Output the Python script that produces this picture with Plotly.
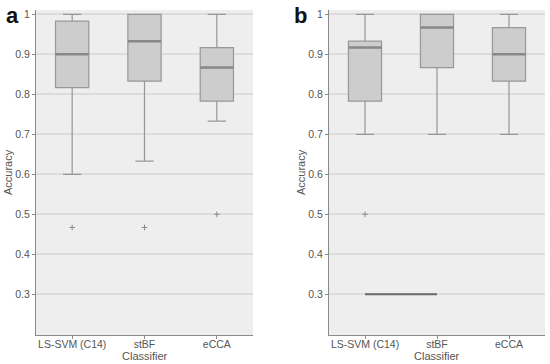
import plotly.graph_objects as go

categories = ["LS-SVM (C14)", "stBF", "eCCA"]

# Panel a
a_lower = [0.600, 0.633, 0.733]
a_q1 = [0.817, 0.833, 0.783]
a_median = [0.900, 0.933, 0.867]
a_q3 = [0.983, 1.000, 0.917]
a_upper = [1.000, 1.000, 1.000]
a_outlier_cat = [0, 1, 2]
a_outlier_val = [0.467, 0.467, 0.500]

# Panel b
b_lower = [0.700, 0.700, 0.700]
b_q1 = [0.783, 0.867, 0.833]
b_median = [0.917, 0.967, 0.900]
b_q3 = [0.933, 1.000, 0.967]
b_upper = [1.000, 1.000, 1.000]
b_outlier_cat = [0]
b_outlier_val = [0.500]
b_sig_cats = [0, 1]
b_sig_val = 0.3

y_ticks = [0.3, 0.4, 0.5, 0.6, 0.7, 0.8, 0.9, 1.0]
y_ticktext = ["0.3", "0.4", "0.5", "0.6", "0.7", "0.8", "0.9", "1"]

BOX_W = 0.46
FILL = "#cdcdcd"
EDGE = "#979797"
MED = "#888888"
BG = "#eeeeee"
GRID = "#dcdcdc"
AX = "#8a8a8a"
TXT = "#555555"
FONT = "Liberation Sans"

fig = go.Figure()
shapes = []

def add_panel(xa, ya, lower, q1, med, q3, upper, ocat, oval):
    xs = list(range(len(categories)))
    fig.add_trace(go.Box(
        x=xs, q1=q1, median=med, q3=q3, lowerfence=lower, upperfence=upper,
        xaxis=xa, yaxis=ya, width=BOX_W, whiskerwidth=0.55,
        fillcolor=FILL, line=dict(color=EDGE, width=1.2),
        boxpoints=False, showlegend=False, hoverinfo="skip",
    ))
    fig.add_trace(go.Scatter(
        x=ocat, y=oval, mode="markers", xaxis=xa, yaxis=ya,
        marker=dict(symbol="cross-thin", size=4, line=dict(color="#8a8a8a", width=1)),
        showlegend=False, hoverinfo="skip",
    ))
    for i, m in enumerate(med):
        shapes.append(dict(type="line", xref=xa, yref=ya,
                           x0=i - BOX_W / 2, x1=i + BOX_W / 2, y0=m, y1=m,
                           line=dict(color=MED, width=2.5)))

add_panel("x", "y", a_lower, a_q1, a_median, a_q3, a_upper, a_outlier_cat, a_outlier_val)
add_panel("x2", "y2", b_lower, b_q1, b_median, b_q3, b_upper, b_outlier_cat, b_outlier_val)

fig.add_trace(go.Scatter(
    x=b_sig_cats, y=[b_sig_val] * len(b_sig_cats), mode="lines",
    xaxis="x2", yaxis="y2", line=dict(color="#6a6a6a", width=2),
    showlegend=False, hoverinfo="skip",
))

xcommon = dict(range=[-0.5, 2.5], tickmode="array", tickvals=[0, 1, 2],
               ticktext=categories, ticks="outside", ticklen=3, tickcolor=AX,
               showline=True, linecolor=AX, linewidth=1, showgrid=False,
               zeroline=False, automargin=False, ticklabelstandoff=-4,
               tickfont=dict(size=10.5, color=TXT, family=FONT))
ycommon = dict(range=[0.198, 1.011], tickmode="array", tickvals=y_ticks,
               ticktext=y_ticktext, ticks="outside", ticklen=3, tickcolor=AX,
               showline=True, linecolor=AX, linewidth=1, showgrid=True,
               gridcolor=GRID, gridwidth=1.5, zeroline=False, automargin=False,
               tickfont=dict(size=10.5, color=TXT, family=FONT))

H = 364.0
W = 550.0
ydom = [1 - 335 / H, 1 - 10 / H]
xdom_a = [36 / W, 253 / W]
xdom_b = [329 / W, 545 / W]

title_font = dict(size=11, color=TXT, family=FONT)
annotations = [
    dict(text="<b>a</b>", xref="paper", yref="paper", x=4 / W, y=1 - 1 / H,
         xanchor="left", yanchor="top", showarrow=False,
         font=dict(size=22, color="#111111", family=FONT)),
    dict(text="<b>b</b>", xref="paper", yref="paper", x=292 / W, y=1 - 1 / H,
         xanchor="left", yanchor="top", showarrow=False,
         font=dict(size=22, color="#111111", family=FONT)),
]
for xd, ylab_x in [(xdom_a, 8), (xdom_b, 301)]:
    annotations.append(dict(text="Classifier", xref="paper", yref="paper",
                            x=(xd[0] + xd[1]) / 2, y=1 - 356 / H,
                            xanchor="center", yanchor="middle", showarrow=False,
                            font=title_font))
    annotations.append(dict(text="Accuracy", xref="paper", yref="paper",
                            x=ylab_x / W, y=1 - 172 / H, textangle=-90,
                            xanchor="center", yanchor="middle", showarrow=False,
                            font=title_font))

fig.update_layout(
    width=550, height=364,
    margin=dict(l=0, r=0, t=0, b=0),
    paper_bgcolor="white", plot_bgcolor=BG,
    xaxis=dict(domain=xdom_a, anchor="y", **xcommon),
    yaxis=dict(domain=ydom, anchor="x", **ycommon),
    xaxis2=dict(domain=xdom_b, anchor="y2", **xcommon),
    yaxis2=dict(domain=ydom, anchor="x2", **ycommon),
    shapes=shapes,
    annotations=annotations,
)

fig.write_html("out.html", config={"displayModeBar": False},
               post_script="document.body.style.margin='0';")
